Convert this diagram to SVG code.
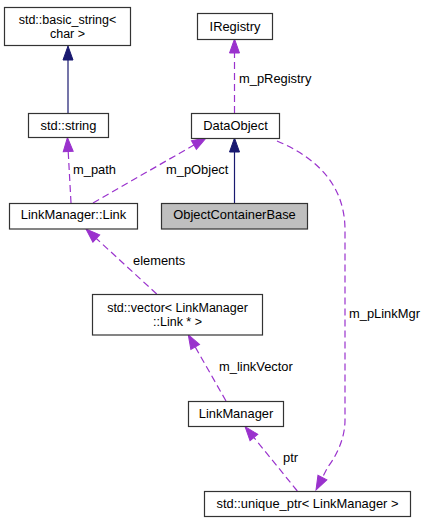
<svg xmlns="http://www.w3.org/2000/svg" width="427" height="523" viewBox="0 0 427 523">
<style>
  .box { fill: #ffffff; stroke: #333333; stroke-width: 1.2; }
  .cur { fill: #bfbfbf; stroke: #333333; stroke-width: 1.2; }
  text { font-family: "Liberation Sans", Arial, sans-serif; font-size: 12.9px; fill: #000000; }
  .c { text-anchor: middle; }
  .two { font-size: 12.5px; }
  .inh { fill: none; stroke: #191970; stroke-width: 1.2; marker-end: url(#an); }
  .use { fill: none; stroke: #9a32cd; stroke-width: 1.2; stroke-dasharray: 7,4; marker-end: url(#ap); }
</style>
<defs>
  <marker id="an" markerUnits="userSpaceOnUse" markerWidth="16" markerHeight="12" refX="0" refY="0" orient="auto" overflow="visible">
    <path d="M0,-5 L14,0 L0,5 z" fill="#191970" stroke="#191970" stroke-width="1"/>
  </marker>
  <marker id="ap" markerUnits="userSpaceOnUse" markerWidth="16" markerHeight="12" refX="0" refY="0" orient="auto" overflow="visible">
    <path d="M0,-5 L14,0 L0,5 z" fill="#9a32cd" stroke="#9a32cd" stroke-width="1"/>
  </marker>
</defs>
<rect width="427" height="523" fill="#ffffff"/>

<g id="connectors">
  <path class="inh" d="M68,113 L68,60"/>
  <path class="inh" d="M234.5,203 L234.5,152"/>
  <path class="use" d="M234.5,113 L234.5,53"/>
  <path class="use" d="M71,203 L68.2,151.5"/>
  <path class="use" d="M93,203 L193.9,145"/>
  <path class="use" d="M156.7,294 L96.3,238.5"/>
  <path class="use" d="M226,401 L195.2,346.9"/>
  <path class="use" d="M297.3,491 L253.9,437.5"/>
  <path class="use" d="M277,141 C310,155 345,180 345,230 L345,420 C345,440 335,458 327.9,466.9 L322.4,477.6"/>
  <text x="239" y="83">m_pRegistry</text>
  <text x="73" y="174">m_path</text>
  <text x="166" y="174">m_pObject</text>
  <text x="133" y="265">elements</text>
  <text x="349" y="318">m_pLinkMgr</text>
  <text x="219" y="370.5">m_linkVector</text>
  <text x="283" y="462">ptr</text>
</g>

<g id="node-basic_string">
  <rect class="box" x="4.5" y="7.5" width="126" height="38"/>
  <text class="c two" x="67.5" y="23.5">std::basic_string&lt;</text>
  <text class="c two" x="67.5" y="37.5">char &gt;</text>
</g>
<g id="node-std_string">
  <rect class="box" x="28.5" y="113.5" width="80" height="24"/>
  <text class="c" x="68.5" y="129.5">std::string</text>
</g>
<g id="node-IRegistry">
  <rect class="box" x="197.5" y="13.5" width="75" height="26"/>
  <text class="c" x="235" y="31">IRegistry</text>
</g>
<g id="node-DataObject">
  <rect class="box" x="191.5" y="113.5" width="88" height="25"/>
  <text class="c" x="235.5" y="130">DataObject</text>
</g>
<g id="node-Link">
  <rect class="box" x="9.5" y="203.5" width="128" height="25.5"/>
  <text class="c" x="73.5" y="219">LinkManager::Link</text>
</g>
<g id="node-ObjectContainerBase">
  <rect class="cur" x="161.5" y="203.5" width="146" height="25.5"/>
  <text class="c" x="234.5" y="219">ObjectContainerBase</text>
</g>
<g id="node-vector">
  <rect class="box" x="92.5" y="294.5" width="170" height="40.5"/>
  <text class="c two" x="177.5" y="311.5">std::vector&lt; LinkManager</text>
  <text class="c two" x="177.5" y="325.5">::Link * &gt;</text>
</g>
<g id="node-LinkManager">
  <rect class="box" x="188.5" y="401.5" width="95" height="25"/>
  <text class="c" x="236" y="417.5">LinkManager</text>
</g>
<g id="node-unique_ptr">
  <rect class="box" x="204.5" y="491.5" width="206" height="25"/>
  <text class="c" x="307.5" y="507.5">std::unique_ptr&lt; LinkManager &gt;</text>
</g>
</svg>
